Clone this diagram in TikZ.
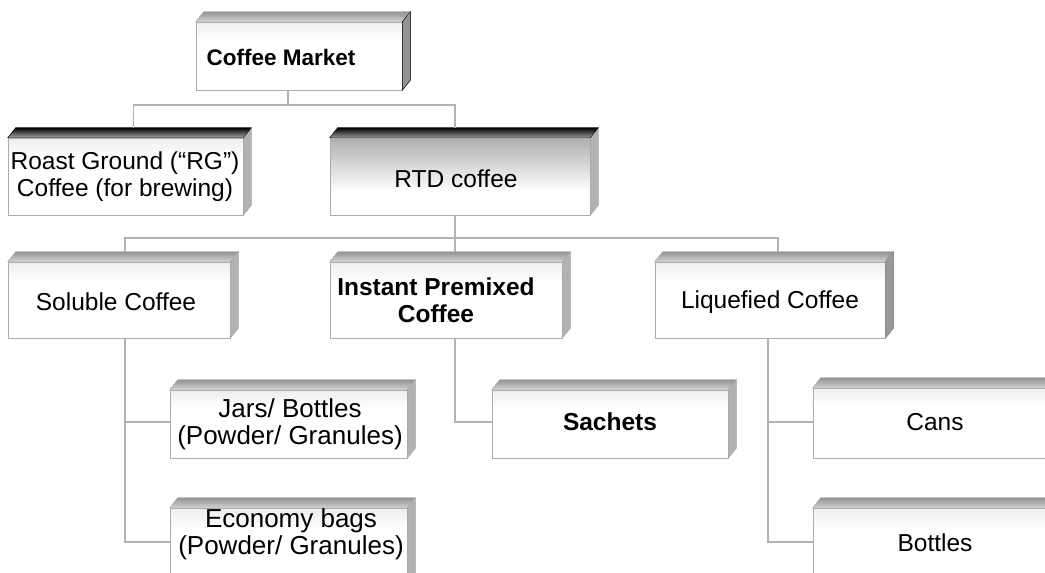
\documentclass[tikz,border=0pt]{standalone}
\usepackage{fontspec}
\setmainfont{Liberation Sans}
\pgfdeclareverticalshading{frontfade}{100bp}{color(0bp)=(white); color(62bp)=(white); color(100bp)=(gray!40)}
\pgfdeclareverticalshading{rtdfade}{100bp}{color(0bp)=(white); color(40bp)=(white); color(68bp)=(gray!50); color(86bp)=(gray!85); color(100bp)=(black)}
\begin{document}
\begin{tikzpicture}[x=1pt,y=-1pt,
  front/.style={draw=gray!65, line width=0.6pt, shading=frontfade, inner sep=0pt},
  topface/.style={top color=gray!85, bottom color=gray!35, draw=gray!70, line width=0.4pt},
  sideface/.style={fill=gray!60, draw=gray!70, line width=0.4pt},
  conn/.style={draw=gray!60, line width=1.1pt},
  lbl/.style={align=center, inner sep=0pt, font=\fontsize{24.5}{27}\selectfont},
  blbl/.style={lbl, font=\fontsize{24.5}{27}\selectfont\bfseries}]
\clip (0,0) rectangle (1045,573);
\fill[white] (0,0) rectangle (1045,573);
% front faces
\node[front, minimum width=206pt, minimum height=68pt] (cm) at (299,56) {};
\node[front, minimum width=235pt, minimum height=77pt] (rg) at (125.5,176.5) {};
\node[front, shading=rtdfade, minimum width=260pt, minimum height=77pt] (rtd) at (460,176.5) {};
\node[front, minimum width=222pt, minimum height=76pt] (sol) at (119,300) {};
\node[front, minimum width=232pt, minimum height=76pt] (inst) at (446,300) {};
\node[front, minimum width=230pt, minimum height=76pt] (liq) at (770,300) {};
\node[front, minimum width=237pt, minimum height=68pt] (jars) at (288.5,424) {};
\node[front, minimum width=236pt, minimum height=68pt] (sach) at (610,424) {};
\node[front, minimum width=237pt, minimum height=82pt] (econ) at (288.5,549) {};
\node[front, minimum width=240pt, minimum height=70pt] (cans) at (933,423) {};
\node[front, minimum width=240pt, minimum height=82pt] (bott) at (933,549) {};
% 3D faces
\foreach \n in {cm,rg,rtd,sol,inst,liq,jars,sach,econ,cans,bott}{
  \path[topface] (\n.north west) -- ++(8,-10) -- ([shift={(8,-10)}]\n.north east) -- (\n.north east) -- cycle;
  \path[sideface] (\n.north east) -- ++(8,-10) -- ([shift={(8,-10)}]\n.south east) -- (\n.south east) -- cycle;
}
\path[top color=black, bottom color=gray!80, draw=black] (rtd.north west) -- ++(8,-10) -- ([shift={(8,-10)}]rtd.north east) -- (rtd.north east) -- cycle;
\path[top color=black, bottom color=gray!70, draw=black] (rg.north west) -- ++(8,-10) -- ([shift={(8,-10)}]rg.north east) -- (rg.north east) -- cycle;
\path[fill=gray!85, draw=black] (cm.north east) -- ++(8,-10) -- ([shift={(8,-10)}]cm.south east) -- (cm.south east) -- cycle;
\path[fill=gray!80, draw=gray] (liq.north east) -- ++(8,-10) -- ([shift={(8,-10)}]liq.south east) -- (liq.south east) -- cycle;
% labels
\node[blbl, font=\fontsize{22.5}{26}\selectfont\bfseries] (tcm) at (281,57) {Coffee Market};
\node[lbl] (trg) at (125,177) {Roast Ground (“RG”)\\Coffee (for brewing)};
\node[lbl] (trtd) at (456,179) {RTD coffee};
\node[lbl] (tsol) at (116,302) {Soluble Coffee};
\node[blbl] (tinst) at (436,300) {Instant Premixed\\Coffee};
\node[lbl] (tliq) at (770,302) {Liquefied Coffee};
\node[lbl, font=\fontsize{26}{27}\selectfont] (tjars) at (290,424) {Jars/ Bottles\\(Powder/ Granules)};
\node[blbl] (tsach) at (610,422) {Sachets};
\node[lbl, font=\fontsize{26}{27}\selectfont] (tecon) at (291,534) {Economy bags\\(Powder/ Granules)};
\node[lbl] (tcans) at (935,422) {Cans};
\node[lbl] (tbott) at (935,543) {Bottles};
% connectors
\coordinate (j1) at (288,105);
\coordinate (j2) at (455,238);
\draw[conn] ([xshift=-11pt]cm.south) -- (j1);
\draw[conn] (j1) -| ([xshift=8pt,yshift=10pt]rg.north);
\draw[conn] (j1) -| ([xshift=-5pt,yshift=10pt]rtd.north);
\draw[conn] ([xshift=-5pt]rtd.south) -- (j2);
\draw[conn] (j2) -| ([xshift=6pt,yshift=10pt]sol.north);
\draw[conn] (j2) -| ([xshift=9pt,yshift=10pt]inst.north);
\draw[conn] (j2) -| ([xshift=8pt,yshift=10pt]liq.north);
\draw[conn] ([xshift=6pt]sol.south) |- ([yshift=7pt]econ.west);
\draw[conn] ([xshift=6pt]sol.south) |- ([yshift=2pt]jars.west);
\draw[conn] ([xshift=9pt]inst.south) |- ([yshift=2pt]sach.west);
\draw[conn] ([xshift=-2pt]liq.south) |- ([yshift=7pt]bott.west);
\draw[conn] ([xshift=-2pt]liq.south) |- ([yshift=1pt]cans.west);
\end{tikzpicture}
\end{document}
